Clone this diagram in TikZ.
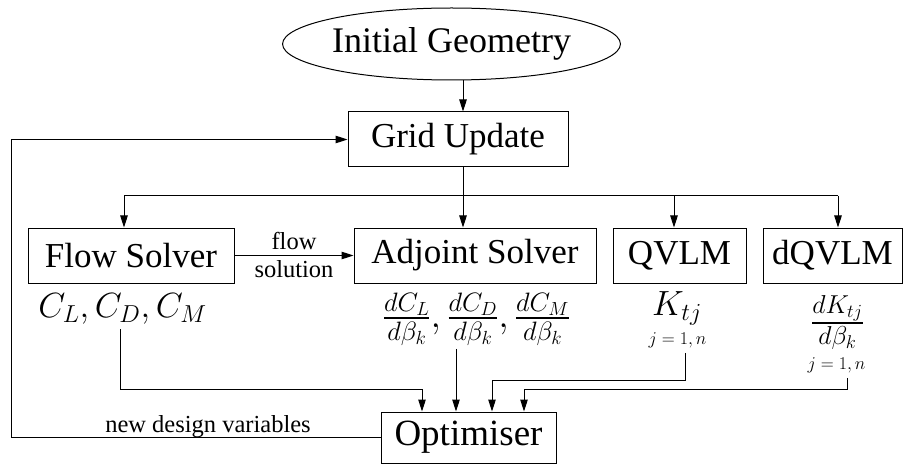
\RequirePackage{fix-cm}
\documentclass[tikz,border=0pt]{standalone}
\usepackage{amsfonts, amssymb, amsmath}
\usepackage{xcolor}
\usepackage{fontspec}
\setmainfont{Liberation Serif}
\usetikzlibrary{shapes.geometric, arrows.meta}

\newcommand{\bigtxt}{\fontsize{35}{40}\selectfont}
\newcommand{\lbltxt}{\fontsize{24.5}{28}\selectfont}
\newcommand{\mathtxt}{\fontsize{35}{40}\selectfont}
\newcommand{\fractxt}{\fontsize{38}{44}\selectfont}
\newcommand{\idxtxt}{\fontsize{18}{22}\selectfont}

\tikzset{
  block/.style={draw, line width=1pt, inner sep=0pt, minimum height=55pt, font=\bigtxt},
  link/.style={line width=1pt},
}

\begin{document}
\begin{tikzpicture}[x=1pt, y=1pt, >={Triangle[length=12pt, width=7.5pt]}]
        \useasboundingbox (0,0) rectangle (904,464);

        % boxes
        \node[ellipse, draw, line width=1pt, inner sep=0pt, minimum width=299pt, minimum height=72pt,
              font=\fontsize{36}{41}\selectfont] (geom) at (451.5,420) {Initial Geometry};
        \node[block, minimum width=220pt] (grid) at (458,324.5) {Grid Update};
        \node[block, minimum width=206pt] (flow) at (131,208.5) {Flow Solver};
        \node[block, minimum width=242pt] (adj) at (475,208.5) {Adjoint Solver};
        \node[block, minimum width=133pt] (qvlm) at (679.5,208.5) {QVLM};
        \node[block, minimum width=139pt] (dqvlm) at (832.5,208.5) {dQVLM};
        \node[block, minimum width=175pt, minimum height=51pt, font=\fontsize{37}{42}\selectfont]
              (opt) at (468.5,26.5) {Optimiser};

        % outputs under the boxes
        \node[anchor=base, inner sep=0pt, font=\mathtxt] (cl) at (122.5,147) {$C_L, C_D, C_M$};
        \node[inner sep=0pt, font=\fractxt] (dcl) at (476.5,144.5)
              {$\frac{dC_L}{d\beta_k}, \frac{dC_D}{d\beta_k}, \frac{dC_M}{d\beta_k}$};
        \node[anchor=base, inner sep=0pt, font=\fontsize{35}{40}\selectfont] (ktj) at (677,149) {$K_{tj}$};
        \node[inner sep=0pt, font=\idxtxt] (kidx) at (677.5,124) {$j=1,n$};
        \node[inner sep=0pt, font=\fontsize{37}{42}\selectfont] (dktj) at (837.5,141.5) {$\frac{dK_{tj}}{d\beta_k}$};
        \node[inner sep=0pt, font=\idxtxt] (dkidx) at (836.5,99) {$j=1,n$};

        % bus under the grid update
        \coordinate (b1) at (124,268);
        \coordinate (b2) at (463,268);
        \coordinate (b3) at (674,268);
        \coordinate (b4) at (838,268);

        \draw[link, ->] (geom.south -| b2) -- (grid.north -| b2);
        \draw[link] (grid.south -| b2) -- (b2);
        \draw[link] (b1) -- (b4);
        \draw[link, ->] (b1) -- (b1 |- flow.north);
        \draw[link, ->] (b2) -- (b2 |- adj.north);
        \draw[link, ->] (b3) -- (b3 |- qvlm.north);
        \draw[link, ->] (b4) -- (b4 |- dqvlm.north);

        \draw[link, ->] (flow.east) -- (adj.west)
              node[midway, above=2pt, font=\lbltxt] {flow}
              node[midway, below=1pt, font=\lbltxt] {solution};

        % results into the optimiser
        \draw[link, ->] (cl.south -| 120,0) ++(0,-5) |- (422,75) -- (opt.north -| 422,0);
        \draw[link, ->] (dcl.south -| 456,0) ++(0,-3) -- (opt.north -| 456,0);
        \draw[link, ->] (kidx.south -| 685,0) ++(0,-5) |- (492,84) -- (opt.north -| 492,0);
        \draw[link, ->] (dkidx.south -| 847,0) ++(0,-5) |- (524,75) -- (opt.north -| 524,0);

        % feedback loop
        \draw[link, ->] (opt.west) -| (11,324.5) -- (grid.west);
        \node[font=\lbltxt] (ndv) at (208,37) {new design variables};
    \end{tikzpicture}
\end{document}
